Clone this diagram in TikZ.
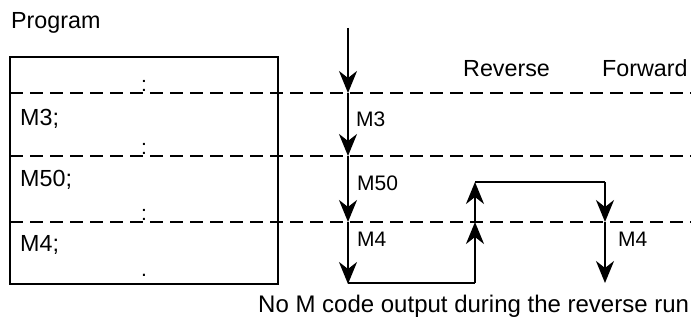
\documentclass[tikz,border=0pt]{standalone}
\usepackage{fontspec}
\setmainfont{Liberation Sans}
\usetikzlibrary{arrows.meta}
\begin{document}
\begin{tikzpicture}[x=1pt,y=-1pt,
  txt/.style={inner sep=0pt,font=\fontsize{23.3}{27}\selectfont},
  lbl/.style={inner sep=0pt,font=\fontsize{21}{25}\selectfont},
  sep/.style={line width=2pt,dash pattern=on 13pt off 7pt},
  flow/.style={line width=2.2pt,-{Stealth[length=22pt,width=18pt,inset=7pt]}},
  wire/.style={line width=2.2pt}]
\useasboundingbox (0,0) rectangle (691,320);
% program box
\node[txt,anchor=base west] (prog) at (11,29) {Program};
\draw[wire] (10,57) rectangle (278,284);
\draw[sep] (10,93) -- (691,93);
\draw[sep] (10,156) -- (691,156);
\draw[sep] (10,222) -- (691,222);
\node[lbl,anchor=base] (c1) at (144,92) {:};
\node[lbl,anchor=base] (c2) at (144,155) {:};
\node[lbl,anchor=base] (c3) at (144,221) {:};
\node[lbl,anchor=base] (c4) at (144,277) {.};
\node[txt,anchor=base west] (m3p) at (20,126) {M3;};
\node[txt,anchor=base west] (m50p) at (20,187) {M50;};
\node[txt,anchor=base west] (m4p) at (20,252) {M4;};
% headers
\node[txt,anchor=base west] (rev) at (463,77) {Reverse};
\node[txt,anchor=base west] (fwd) at (602,77) {Forward};
\node[txt,anchor=base west,font=\fontsize{24}{28}\selectfont] (note) at (258,313) {No M code output during the reverse run};
% main flow
\coordinate (a0) at (348,28);
\coordinate (a1) at (348,93);
\coordinate (a2) at (348,156);
\coordinate (a3) at (348,222);
\coordinate (a4) at (348,284);
\coordinate (b0) at (475,283);
\coordinate (b1) at (475,222);
\coordinate (b2) at (475,182);
\coordinate (f0) at (605,182);
\coordinate (f1) at (605,222);
\coordinate (f2) at (605,283);
\draw[flow] (a0) -- (a1);
\draw[flow] (a1) -- (a2);
\draw[flow] (a2) -- (a3);
\draw[flow] (a3) -- (a4);
\draw[wire] (a4 |- b0) -- (b0);
\draw[flow] (b0) -- (b1);
\draw[flow] (b1) -- (b2);
\draw[wire] (b2) -- (f0);
\draw[flow] (f0) -- (f1);
\draw[flow] (f1) -- (f2);
\node[lbl,anchor=base west] (m3) at (356,127) {M3};
\node[lbl,anchor=base west] (m50) at (357,191) {M50};
\node[lbl,anchor=base west] (m4a) at (357,247) {M4};
\node[lbl,anchor=base west] (m4b) at (618,247) {M4};
\end{tikzpicture}
\end{document}
